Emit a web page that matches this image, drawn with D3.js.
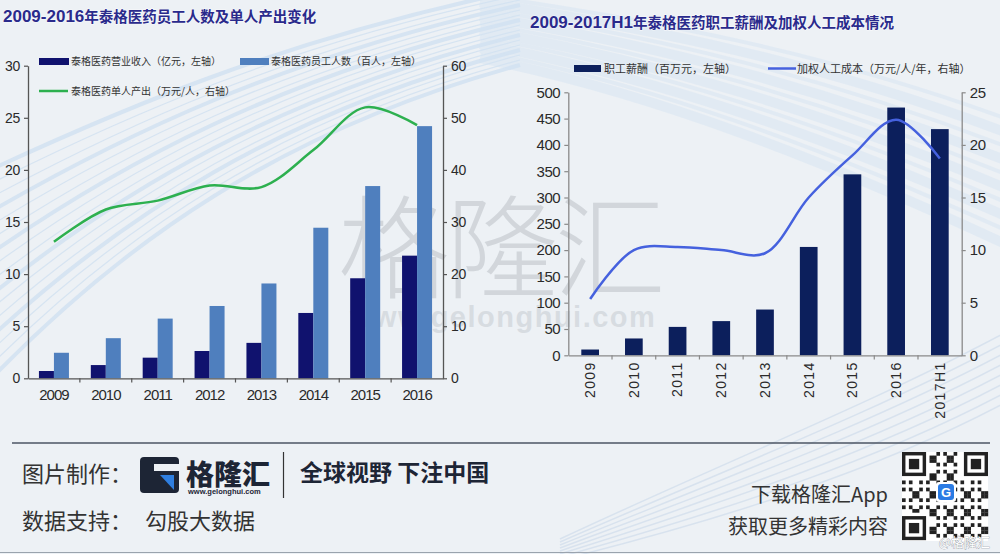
<!DOCTYPE html>
<html><head><meta charset="utf-8">
<script src="https://cdn.jsdelivr.net/npm/d3@7"></script>
<style>body{margin:0;background:#edf1f5}svg{display:block}</style>
</head><body>
<svg id="c" width="1000" height="554"></svg>
<script>
// ---------- data ----------
const years1 = ["2009","2010","2011","2012","2013","2014","2015","2016"];
const revenue = [0.7, 1.27, 1.98, 2.62, 3.4, 6.27, 9.6, 11.77];          // 亿元
const employees = [2.45, 3.85, 5.73, 6.94, 9.1, 14.45, 18.45, 24.2];      // 百人
const outputPerHead = [26.2, 32.4, 34.1, 37.0, 36.7, 43.8, 52.0, 48.6];   // 万元/人
const leftTicks1 = [0,5,10,15,20,25,30];
const rightTicks1 = [0,10,20,30,40,50,60];

const years2 = ["2009","2010","2011","2012","2013","2014","2015","2016","2017H1"];
const payroll = [11, 32, 54, 65, 87, 206, 344, 471, 430];                 // 百万元
const laborCost = [5.35, 10.0, 10.3, 10.0, 9.7, 15.0, 19.0, 22.4, 18.7];  // 万元/人/年
const leftTicks2 = [0,50,100,150,200,250,300,350,400,450,500];
const rightTicks2 = [0,5,10,15,20,25];

const title1 = ["2009-2016", "年泰格医药员工人数及单人产出变化"];
const title2 = ["2009-2017H1", "年泰格医药职工薪酬及加权人工成本情况"];
const legend1 = ["泰格医药营业收入（亿元，左轴）","泰格医药员工人数（百人，左轴）","泰格医药单人产出（万元/人，右轴）"];
const legend2 = ["职工薪酬（百万元，左轴）","加权人工成本（万元/人/年，右轴）"];

// ---------- setup ----------
const svg = d3.select("#c");
const NAVY = "#10126e", LBLUE = "#4f7fbe", GREEN = "#2db04f", NAVY2 = "#0c1f5c", LINE2 = "#4561de";
const NUM = "'Liberation Sans Narrow','Liberation Sans',Arial,sans-serif";
const CJK = "'Noto Sans CJK SC',sans-serif";

svg.append("rect").attr("width",1000).attr("height",554).attr("fill","#edf1f5");

// decorative swooshes
const deco = svg.append("g").attr("fill","none");
d3.range(16).forEach(k=>{
  deco.append("path")
    .attr("d",`M-10,${170+k*14} C120,${110+k*9} 280,${40+k*6} 520,${-10+k*5}`)
    .attr("stroke","#c3d8ee").attr("stroke-width",k%3===0?4:1.2).attr("opacity",0.55);
});
d3.range(10).forEach(k=>{
  deco.append("path")
    .attr("d",`M480,${-5+k*7} C650,${20+k*8} 820,${50+k*12} 1010,${120+k*14}`)
    .attr("stroke","#d2e2f2").attr("stroke-width",k%2?10:4).attr("opacity",0.45);
});
d3.range(8).forEach(k=>{
  deco.append("path")
    .attr("d",`M560,${560-k*3} C720,${520-k*8} 880,${470-k*10} 1010,${400-k*10}`)
    .attr("stroke","#c9d9ea").attr("stroke-width",1.5).attr("opacity",0.6);
});

// watermark
svg.append("text").attr("x",338).attr("y",290).attr("font-family",CJK).attr("font-weight",300)
  .attr("font-size",112).attr("fill","#8d949c").attr("opacity",0.28).attr("letter-spacing",-4).text("格隆汇");
svg.append("text").attr("x",350).attr("y",327).attr("font-family","'Liberation Sans',Arial,sans-serif").attr("font-weight","bold")
  .attr("font-size",29).attr("fill","#8d949c").attr("opacity",0.22).attr("letter-spacing",1.5).text("www.gelonghui.com");

function title(x, y, parts){
  const t = svg.append("text").attr("x",x).attr("y",y).attr("fill","#2a2a8c").attr("font-weight","bold")
    .style("paint-order","stroke").attr("stroke","#ffffff").attr("stroke-width",1.2).attr("stroke-opacity",0.6);
  t.append("tspan").attr("font-family",NUM).attr("font-size",17).text(parts[0]);
  t.append("tspan").attr("font-family",CJK).attr("font-size",14.5).text(parts[1]);
}
title(3, 22, title1);
title(530, 28, title2);

function styleAxis(g, color){
  g.select(".domain").attr("stroke",color).attr("stroke-width",1.3);
  g.selectAll(".tick line").attr("stroke",color).attr("stroke-width",1.2);
  g.selectAll("text").attr("fill","#2a2a2a").attr("font-family",NUM);
}

// ---------- chart 1 ----------
{
  const x = d3.scaleBand().domain(years1).range([28, 443]);
  const yL = d3.scaleLinear().domain([0,30]).range([378.3, 65.7]);
  const yR = d3.scaleLinear().domain([0,60]).range([378.3, 65.7]);
  const bw = 15;
  const g = svg.append("g");
  g.selectAll(".rev").data(years1).join("rect")
    .attr("x",d=>x(d)+x.bandwidth()/2-bw).attr("width",bw)
    .attr("y",(d,i)=>yL(revenue[i])).attr("height",(d,i)=>yL(0)-yL(revenue[i])).attr("fill",NAVY);
  g.selectAll(".emp").data(years1).join("rect")
    .attr("x",d=>x(d)+x.bandwidth()/2).attr("width",bw)
    .attr("y",(d,i)=>yL(employees[i])).attr("height",(d,i)=>yL(0)-yL(employees[i])).attr("fill",LBLUE);
  const line = d3.line().x((d,i)=>x(years1[i])+x.bandwidth()/2).y(d=>yR(d)).curve(d3.curveCatmullRom.alpha(0.5));
  g.append("path").attr("d",line(outputPerHead)).attr("fill","none").attr("stroke",GREEN).attr("stroke-width",2.5);

  const ax = g.append("g").attr("transform","translate(28,0)")
    .call(d3.axisLeft(yL).tickValues(leftTicks1).tickSize(4).tickSizeOuter(0).tickPadding(4));
  styleAxis(ax,"#555");
  ax.selectAll("text").attr("font-size",14).attr("letter-spacing",-0.3);
  const ar = g.append("g").attr("transform","translate(443,0)")
    .call(d3.axisRight(yR).tickValues(rightTicks1).tickSize(4).tickSizeOuter(0).tickPadding(4));
  styleAxis(ar,"#555");
  ar.selectAll("text").attr("font-size",14).attr("letter-spacing",-0.3);
  const ab = g.append("g").attr("transform","translate(0,378.3)")
    .call(d3.axisBottom(x).tickSize(0).tickSizeOuter(0).tickPadding(11));
  styleAxis(ab,"#555");
  ab.selectAll("text").attr("font-size",15).attr("letter-spacing",-1);
  g.selectAll(".bt").data(years1.slice(1)).join("line")
    .attr("x1",d=>x(d)).attr("x2",d=>x(d)).attr("y1",378.3).attr("y2",382.5).attr("stroke","#555").attr("stroke-width",1.2);

  // legend
  const lg = svg.append("g").attr("font-family",CJK).attr("font-size",10).attr("fill","#333");
  lg.append("rect").attr("x",39).attr("y",58).attr("width",30).attr("height",7).attr("fill",NAVY);
  lg.append("text").attr("x",71).attr("y",65).text(legend1[0]);
  lg.append("rect").attr("x",240).attr("y",58).attr("width",29).attr("height",7).attr("fill",LBLUE);
  lg.append("text").attr("x",271).attr("y",65).text(legend1[1]);
  lg.append("line").attr("x1",39).attr("x2",68).attr("y1",91).attr("y2",91).attr("stroke",GREEN).attr("stroke-width",2.5);
  lg.append("text").attr("x",71).attr("y",95).text(legend1[2]);
}

// ---------- chart 2 ----------
{
  const x = d3.scaleBand().domain(years2).range([568.3, 961.7]);
  const yL = d3.scaleLinear().domain([0,500]).range([355.3, 92.3]);
  const yR = d3.scaleLinear().domain([0,25]).range([355.3, 92.3]);
  const bw = 17.7;
  const g = svg.append("g");
  g.selectAll(".pay").data(years2).join("rect")
    .attr("x",d=>x(d)+x.bandwidth()/2-bw/2).attr("width",bw)
    .attr("y",(d,i)=>yL(payroll[i])).attr("height",(d,i)=>yL(0)-yL(payroll[i])).attr("fill",NAVY2);
  const line = d3.line().x((d,i)=>x(years2[i])+x.bandwidth()/2).y(d=>yR(d)).curve(d3.curveCatmullRom.alpha(0.5));
  g.append("path").attr("d",line(laborCost)).attr("fill","none").attr("stroke",LINE2).attr("stroke-width",2.5);

  const ax = g.append("g").attr("transform","translate(568.3,0)")
    .call(d3.axisLeft(yL).tickValues(leftTicks2).tickSize(4).tickSizeOuter(0).tickPadding(4));
  styleAxis(ax,"#8a8a8a");
  ax.selectAll("text").attr("font-size",15).attr("letter-spacing",-0.4);
  const ar = g.append("g").attr("transform","translate(961.7,0)")
    .call(d3.axisRight(yR).tickValues(rightTicks2).tickSize(4).tickSizeOuter(0).tickPadding(4));
  styleAxis(ar,"#8a8a8a");
  ar.selectAll("text").attr("font-size",15).attr("letter-spacing",-0.4);
  const ab = g.append("g").attr("transform","translate(0,355.3)")
    .call(d3.axisBottom(x).tickSize(0).tickSizeOuter(0).tickPadding(6));
  styleAxis(ab,"#8a8a8a");
  ab.selectAll("text").attr("font-family","'Liberation Sans',Arial,sans-serif").attr("font-size",14).attr("letter-spacing",1.4)
    .attr("transform","rotate(-90)").attr("text-anchor","end").attr("dy","0.35em").attr("x",-6).attr("y",0);
  g.selectAll(".bt").data(years2.slice(1)).join("line")
    .attr("x1",d=>x(d)).attr("x2",d=>x(d)).attr("y1",355.3).attr("y2",359.5).attr("stroke","#8a8a8a").attr("stroke-width",1.2);

  const lg = svg.append("g").attr("font-family",CJK).attr("font-size",11).attr("fill","#333");
  lg.append("rect").attr("x",574).attr("y",65).attr("width",27).attr("height",7).attr("fill",NAVY2);
  lg.append("text").attr("x",604).attr("y",72.5).text(legend2[0]);
  lg.append("line").attr("x1",768).attr("x2",796).attr("y1",68.5).attr("y2",68.5).attr("stroke",LINE2).attr("stroke-width",2.5);
  lg.append("text").attr("x",797).attr("y",72.5).text(legend2[1]);
}

// ---------- footer ----------
{
  const f = svg.append("g");
  f.append("line").attr("x1",12).attr("x2",990).attr("y1",443).attr("y2",443).attr("stroke","#4b5563").attr("stroke-width",1.6);
  f.append("line").attr("x1",0).attr("x2",1000).attr("y1",552.5).attr("y2",552.5).attr("stroke","#9aa3ad").attr("stroke-width",1.2);
  const T = (x,y,s,size,opts={})=>f.append("text").attr("x",x).attr("y",y).attr("font-family",CJK)
      .attr("font-size",size).attr("fill",opts.fill||"#333").attr("font-weight",opts.w||"normal")
      .attr("text-anchor",opts.a||"start").text(s);
  T(22,482,"图片制作：",22);
  T(22,529,"数据支持：",22);
  T(145,529,"勾股大数据",22);
  // logo
  f.append("rect").attr("x",140).attr("y",457).attr("width",39).attr("height",36).attr("rx",4).attr("fill","#1d2535");
  f.append("path").attr("d","M149,466 H179 V475 H158 V484 H170 V478 H179 V493 H149 Z").attr("fill","none");
  f.append("rect").attr("x",147).attr("y",464).attr("width",32).attr("height",7).attr("fill","#edf1f5");
  f.append("rect").attr("x",147).attr("y",464).attr("width",7).attr("height",22).attr("fill","#1d2535");
  f.append("path").attr("d","M160,475 H174 V490 Z").attr("fill","#2f7fe0");
  T(186,485,"格隆汇",28,{w:"900",fill:"#1d2535"});
  f.append("text").attr("x",188).attr("y",494).attr("font-family","'Liberation Sans',Arial,sans-serif").attr("font-size",7.5)
    .attr("font-weight","bold").attr("fill","#1d2535").text("www.gelonghui.com");
  f.append("line").attr("x1",283.5).attr("x2",283.5).attr("y1",452).attr("y2",498).attr("stroke","#333").attr("stroke-width",1.2);
  T(300,481,"全球视野 下注中国",23,{w:"bold",fill:"#1d2535"});
  T(888,502,"下载格隆汇App",20,{a:"end"});
  T(888,534,"获取更多精彩内容",20,{a:"end"});

  // QR-like decoration
  const qr = f.append("g").attr("transform","translate(902,452)");
  const N = 25, cs = 86/N;
  qr.append("rect").attr("width",86).attr("height",89).attr("fill","#fff");
  const cells = [];
  for(let i=0;i<N;i++)for(let j=0;j<N;j++){
    const inFinder = (i<8&&j<8)||(i<8&&j>=N-8)||(i>=N-8&&j<8);
    if(inFinder) continue;
    if(((i*7+j*13+i*j*3)%5)<2) cells.push([i,j]);
  }
  qr.selectAll(".q").data(cells).join("rect").attr("x",d=>d[1]*cs).attr("y",d=>d[0]*cs*89/86)
    .attr("width",cs+0.2).attr("height",cs*89/86+0.2).attr("fill","#222");
  [[0,0],[0,N-7],[N-7,0]].forEach(([i,j])=>{
    const X=j*cs, Y=i*cs*89/86;
    qr.append("rect").attr("x",X).attr("y",Y).attr("width",7*cs).attr("height",7*cs).attr("fill","#222");
    qr.append("rect").attr("x",X+cs).attr("y",Y+cs).attr("width",5*cs).attr("height",5*cs).attr("fill","#fff");
    qr.append("rect").attr("x",X+2*cs).attr("y",Y+2*cs).attr("width",3*cs).attr("height",3*cs).attr("fill","#222");
  });
  qr.append("rect").attr("x",34).attr("y",30).attr("width",20).attr("height",20).attr("rx",3).attr("fill","#fff");
  qr.append("rect").attr("x",36).attr("y",32).attr("width",16).attr("height",16).attr("rx",3).attr("fill","#2a7be4");
  qr.append("text").attr("x",44).attr("y",45).attr("text-anchor","middle").attr("font-family","'Liberation Sans',Arial")
    .attr("font-weight","bold").attr("font-size",13).attr("fill","#fff").text("G");
  f.append("text").attr("x",990).attr("y",547).attr("text-anchor","end").attr("font-family",CJK).attr("font-size",13)
    .attr("fill","#ffffff").attr("stroke","#8a8f96").attr("stroke-width",0.6).style("paint-order","stroke").text("@格隆汇");
}
</script>
</body></html>
